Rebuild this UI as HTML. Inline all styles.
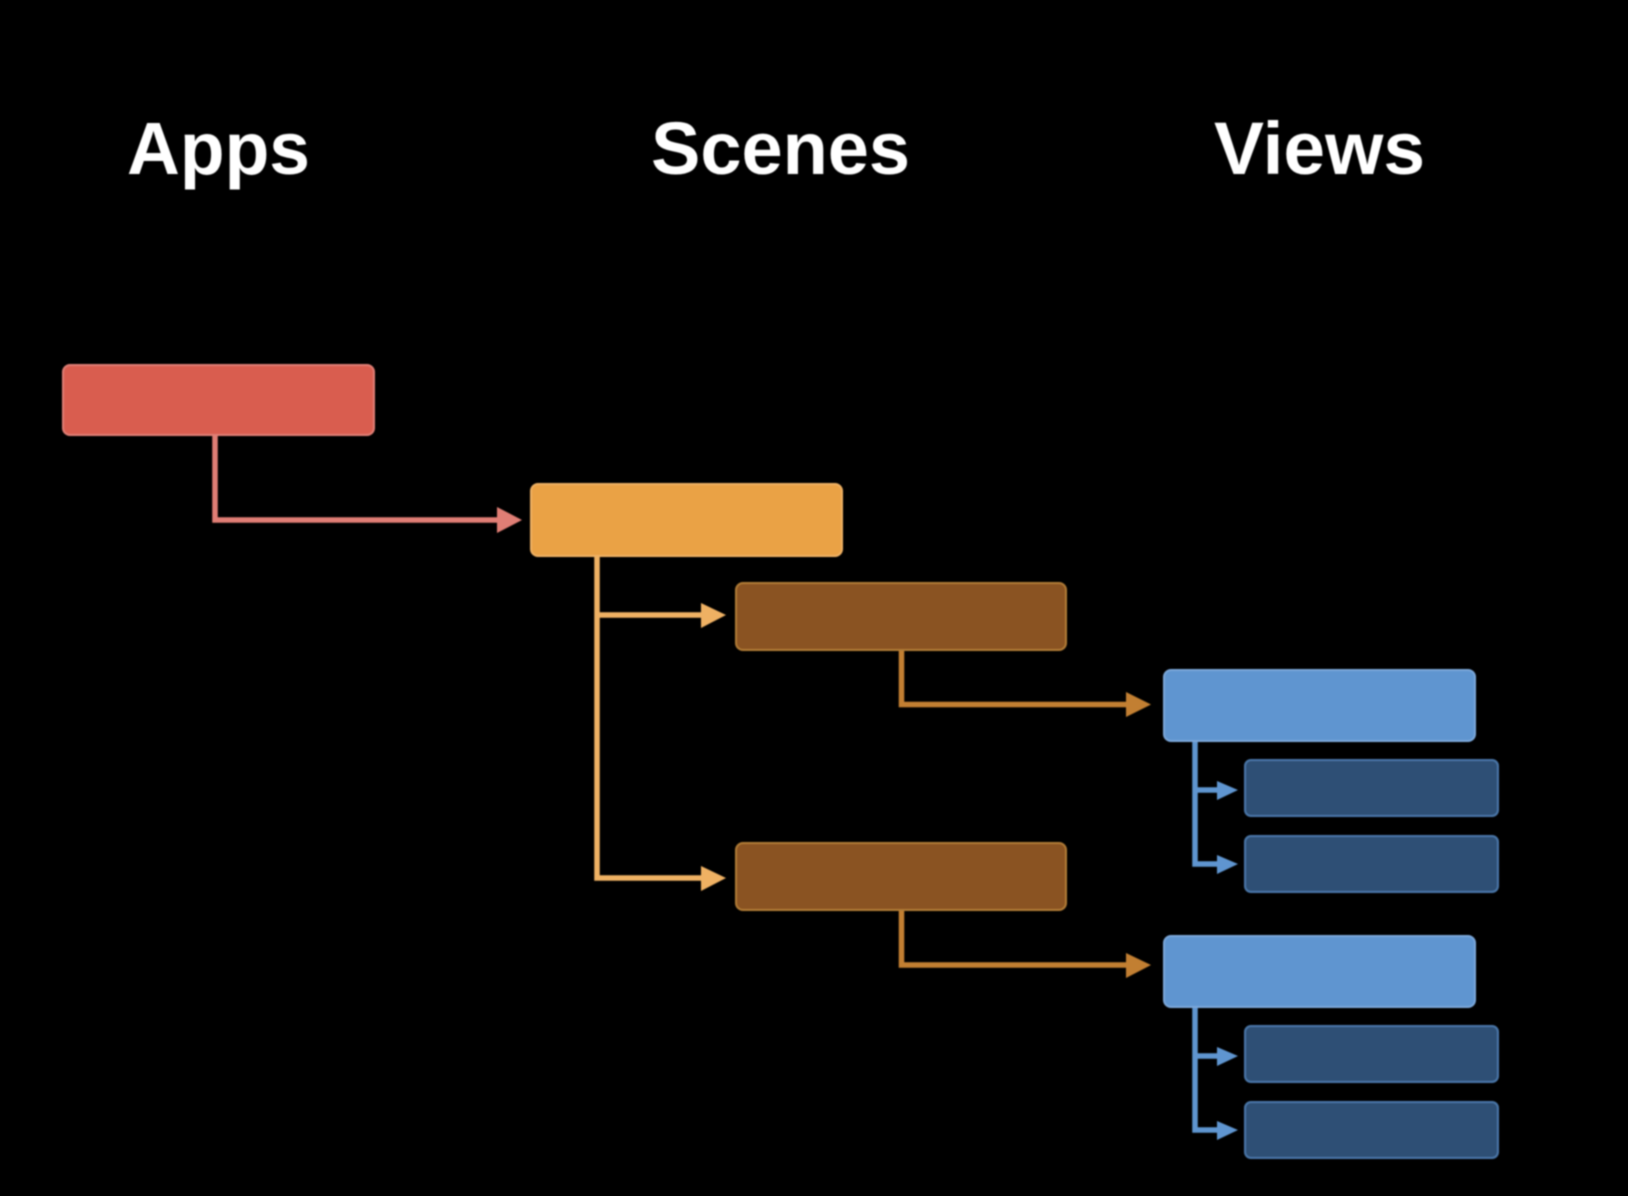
<!DOCTYPE html>
<html>
<head>
<meta charset="utf-8">
<style>
html,body{margin:0;padding:0;background:#000;width:1628px;height:1196px;overflow:hidden}
svg{display:block}
text{font-family:"Liberation Sans",sans-serif;font-weight:700;fill:#fff;font-size:74px}
</style>
</head>
<body>
<svg width="1628" height="1196" viewBox="0 0 1628 1196" xmlns="http://www.w3.org/2000/svg">
<defs><filter id="b" x="-5%" y="-5%" width="110%" height="110%"><feGaussianBlur stdDeviation="0.8"/></filter></defs>
<rect width="1628" height="1196" fill="#000"/>
<g filter="url(#b)">
<text x="127" y="174" textLength="183" lengthAdjust="spacingAndGlyphs">Apps</text>
<text x="651" y="174" textLength="259" lengthAdjust="spacingAndGlyphs">Scenes</text>
<text x="1214" y="174" textLength="211" lengthAdjust="spacingAndGlyphs">Views</text>

<!-- connectors -->
<g fill="none" stroke-width="5.500" stroke-linejoin="miter">
<path d="M215 435V520H500" stroke="#e07e74"/>
<path d="M597 557V878H704M597 615H704" stroke="#efb163"/>
<path d="M901.500 650V704.500H1128" stroke="#c27f33"/>
<path d="M901.500 911V965H1128" stroke="#c27f33"/>
<path d="M1195 742V864H1220M1195 790H1220" stroke="#5f95d0"/>
<path d="M1195 1008V1130H1220M1195 1056H1220" stroke="#5f95d0"/>
</g>
<g>
<polygon points="497,507 522,520 497,533" fill="#e07e74"/>
<polygon points="701,603 726,615 701,628" fill="#efb163"/>
<polygon points="701,866 726,878 701,891" fill="#efb163"/>
<polygon points="1126,692 1151,704.500 1126,717" fill="#c27f33"/>
<polygon points="1126,953 1151,965 1126,978" fill="#c27f33"/>
<polygon points="1217,781 1238,790 1217,800" fill="#5f95d0"/>
<polygon points="1217,855 1238,864 1217,874" fill="#5f95d0"/>
<polygon points="1217,1047 1238,1056 1217,1066" fill="#5f95d0"/>
<polygon points="1217,1121 1238,1130 1217,1140" fill="#5f95d0"/>
</g>

<!-- boxes -->
<g stroke-width="2">
<rect x="63" y="365" width="311" height="70" rx="7" fill="#d95d50" stroke="#e07e74"/>
<rect x="531" y="484" width="311" height="72" rx="7" fill="#eaa244" stroke="#efb163"/>
<rect x="736" y="583" width="330" height="67" rx="7" fill="#8a5320" stroke="#b07a35"/>
<rect x="736" y="843" width="330" height="67" rx="7" fill="#8a5320" stroke="#b07a35"/>
<rect x="1164" y="670" width="311" height="71" rx="7" fill="#5f95d0" stroke="#7aa7da"/>
<rect x="1164" y="936" width="311" height="71" rx="7" fill="#5f95d0" stroke="#7aa7da"/>
<rect x="1245" y="760" width="253" height="56" rx="6" fill="#2f4f74" stroke="#4a76a8"/>
<rect x="1245" y="836" width="253" height="56" rx="6" fill="#2f4f74" stroke="#4a76a8"/>
<rect x="1245" y="1026" width="253" height="56" rx="6" fill="#2f4f74" stroke="#4a76a8"/>
<rect x="1245" y="1102" width="253" height="56" rx="6" fill="#2f4f74" stroke="#4a76a8"/>
</g>
</g>
</svg>
</body>
</html>
